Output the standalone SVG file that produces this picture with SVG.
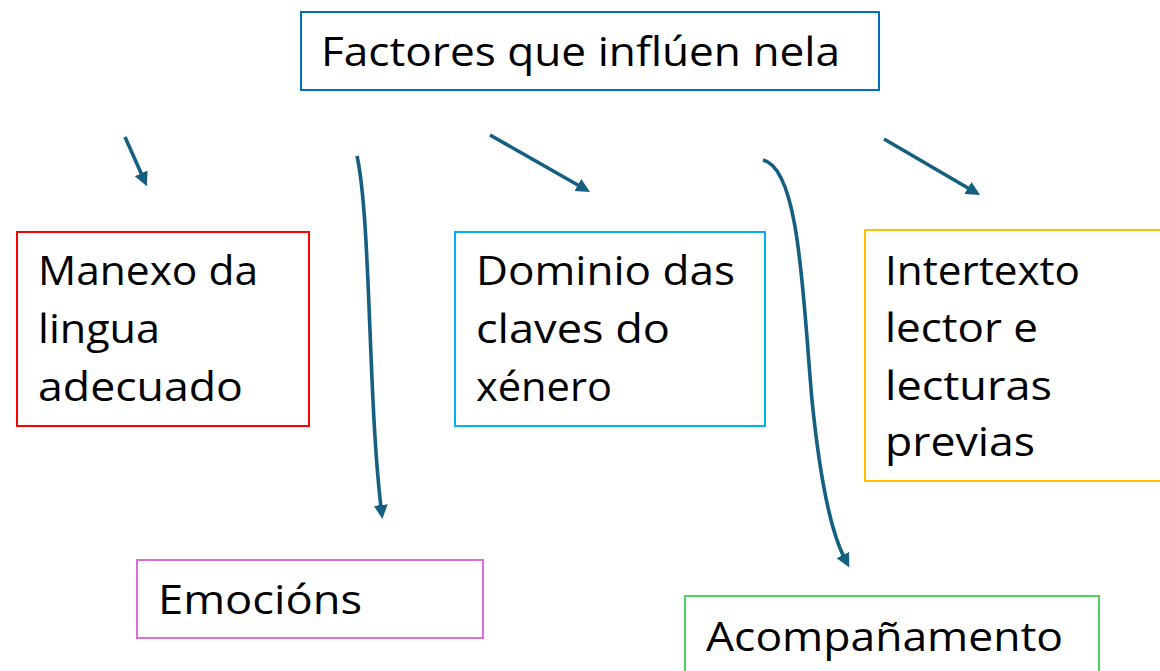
<svg xmlns="http://www.w3.org/2000/svg" width="1160" height="671" viewBox="0 0 1160 671">
<style>
  .box { fill: #ffffff; stroke-width: 2; }
  .lbl { font-family: "Open Sans", "Liberation Sans", sans-serif; font-size: 40px; fill: #000000; }
  .conn { fill: none; stroke: #156082; stroke-width: 3.6; marker-end: url(#ah); }
</style>
<defs>
  <marker id="ah" markerUnits="userSpaceOnUse" markerWidth="16" markerHeight="16" refX="4" refY="7" orient="auto">
    <path d="M0,0 L14,7 L0,14 z" fill="#156082"/>
  </marker>
</defs>
<rect width="1160" height="671" fill="#ffffff"/>

<g id="title">
  <rect class="box" x="301" y="12" width="578" height="78" stroke="#0070c0"/>
  <text class="lbl" x="321" y="66" textLength="519" lengthAdjust="spacingAndGlyphs">Factores que inflúen nela</text>
</g>

<g id="manexo">
  <rect class="box" x="17" y="232" width="292" height="194" stroke="#ff0000"/>
  <text class="lbl" x="38" y="285" textLength="220" lengthAdjust="spacingAndGlyphs">Manexo da</text>
  <text class="lbl" x="38" y="343" textLength="122" lengthAdjust="spacingAndGlyphs">lingua</text>
  <text class="lbl" x="38" y="401" textLength="205" lengthAdjust="spacingAndGlyphs">adecuado</text>
</g>

<g id="dominio">
  <rect class="box" x="455" y="232" width="310" height="194" stroke="#00b0f0"/>
  <text class="lbl" x="476" y="285" textLength="259" lengthAdjust="spacingAndGlyphs">Dominio das</text>
  <text class="lbl" x="476" y="343" textLength="194" lengthAdjust="spacingAndGlyphs">claves do</text>
  <text class="lbl" x="476" y="401" textLength="136" lengthAdjust="spacingAndGlyphs">xénero</text>
</g>

<g id="intertexto">
  <rect class="box" x="865" y="230" width="310" height="251" stroke="#ffc000"/>
  <text class="lbl" x="885" y="285" textLength="195" lengthAdjust="spacingAndGlyphs">Intertexto</text>
  <text class="lbl" x="885" y="342" textLength="153" lengthAdjust="spacingAndGlyphs">lector e</text>
  <text class="lbl" x="885" y="400" textLength="167" lengthAdjust="spacingAndGlyphs">lecturas</text>
  <text class="lbl" x="885" y="456" textLength="150" lengthAdjust="spacingAndGlyphs">previas</text>
</g>

<g id="emocions">
  <rect class="box" x="137" y="560" width="346" height="78" stroke="#dd6fd4"/>
  <text class="lbl" x="158" y="614" textLength="204" lengthAdjust="spacingAndGlyphs">Emocións</text>
</g>

<g id="acompanamento">
  <rect class="box" x="685" y="596" width="414" height="90" stroke="#4fd15f"/>
  <text class="lbl" x="706" y="651" textLength="357" lengthAdjust="spacingAndGlyphs">Acompañamento</text>
</g>

<g id="connectors">
  <path class="conn" d="M125,137 L142.8,177"/>
  <path class="conn" d="M357,156 C371,220 368,400 381.2,509"/>
  <path class="conn" d="M490,135 L581.3,187"/>
  <path class="conn" d="M763,160 C800,168 803,300 812,400 C820,480 830,530 844.7,558.6"/>
  <path class="conn" d="M884,139 L971.4,190"/>
</g>
</svg>
